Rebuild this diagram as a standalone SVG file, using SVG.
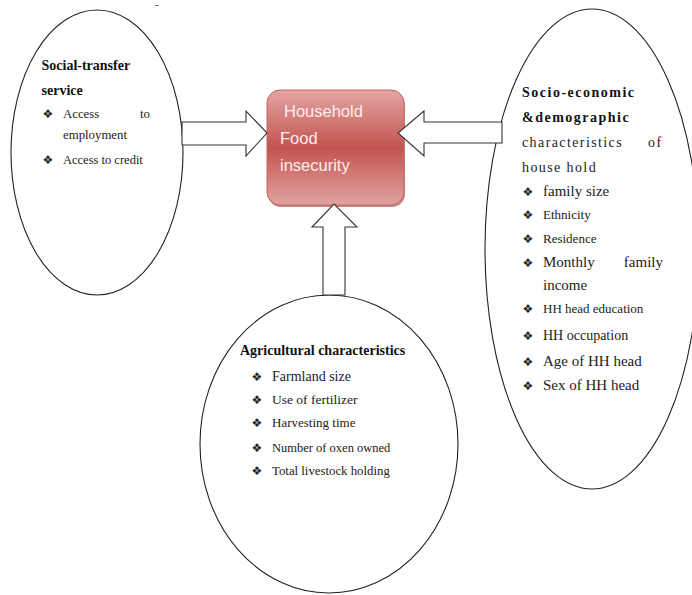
<svg xmlns="http://www.w3.org/2000/svg" width="692" height="595" viewBox="0 0 692 595">
<style>
.oval{fill:#fff;stroke:#222;stroke-width:1.1}
.arr{fill:#fff;stroke:#333;stroke-width:1.1;stroke-linejoin:miter}
.t{font-family:"Liberation Serif","Times New Roman",serif;fill:#222}
.b{font-weight:bold;fill:#111}
.bul{font-family:"DejaVu Sans",sans-serif;font-size:12px;fill:#222;text-anchor:middle}
.bx{font-family:"Liberation Sans",Arial,sans-serif;font-size:16.5px;fill:#fdeeee}
</style>
<defs>
<linearGradient id="g" x1="0" y1="0" x2="0" y2="1">
<stop offset="0" stop-color="#e3a6a4"/>
<stop offset="0.5" stop-color="#c4544f"/>
<stop offset="1" stop-color="#e0a3a1"/>
</linearGradient>
</defs>
<rect width="692" height="595" fill="#fff"/>
<text class="t" x="155" y="8" font-size="10">-</text>

<g id="social">
<ellipse class="oval" cx="97" cy="152.5" rx="86" ry="142.5"/>
<text class="t b" x="41.5" y="70" font-size="14">Social-transfer</text>
<text class="t b" x="41.5" y="95" font-size="14">service</text>
<text class="bul" x="48" y="118">❖</text>
<text class="t" x="63" y="118" font-size="12.8">Access</text>
<text class="t" x="150" y="118" font-size="12.8" text-anchor="end">to</text>
<text class="t" x="63" y="139" font-size="12.8">employment</text>
<text class="bul" x="48" y="164">❖</text>
<text class="t" x="63" y="164" font-size="12.5">Access to credit</text>
</g>

<g id="socio">
<ellipse class="oval" cx="592" cy="249" rx="107" ry="240"/>
<text class="t b" x="522" y="97" font-size="14" letter-spacing="1.5">Socio-economic</text>
<text class="t b" x="522" y="122" font-size="14" letter-spacing="1.5">&amp;demographic</text>
<text class="t" x="522" y="147" font-size="14" letter-spacing="1.4">characteristics</text>
<text class="t" x="648" y="147" font-size="14" letter-spacing="1.4">of</text>
<text class="t" x="522" y="172" font-size="14" letter-spacing="1.4">house hold</text>
<text class="bul" x="528" y="196">❖</text>
<text class="t" x="543" y="196" font-size="15">family size</text>
<text class="bul" x="528" y="219">❖</text>
<text class="t" x="543" y="219" font-size="13">Ethnicity</text>
<text class="bul" x="528" y="243">❖</text>
<text class="t" x="543" y="243" font-size="13">Residence</text>
<text class="bul" x="528" y="267">❖</text>
<text class="t" x="543" y="267" font-size="15">Monthly</text>
<text class="t" x="663" y="267" font-size="15" text-anchor="end">family</text>
<text class="t" x="543" y="290" font-size="15">income</text>
<text class="bul" x="528" y="313">❖</text>
<text class="t" x="543" y="313" font-size="13">HH head education</text>
<text class="bul" x="528" y="340">❖</text>
<text class="t" x="543" y="340" font-size="14">HH occupation</text>
<text class="bul" x="528" y="366">❖</text>
<text class="t" x="543" y="366" font-size="15">Age of HH head</text>
<text class="bul" x="528" y="390">❖</text>
<text class="t" x="543" y="390" font-size="15">Sex of HH head</text>
</g>

<g id="agri">
<ellipse class="oval" cx="329" cy="444" rx="129" ry="149"/>
<text class="t b" x="240" y="355" font-size="14">Agricultural characteristics</text>
<text class="bul" x="257" y="381">❖</text>
<text class="t" x="272" y="381" font-size="14">Farmland size</text>
<text class="bul" x="257" y="404">❖</text>
<text class="t" x="272" y="404" font-size="13.5">Use of fertilizer</text>
<text class="bul" x="257" y="427">❖</text>
<text class="t" x="272" y="427" font-size="13">Harvesting time</text>
<text class="bul" x="257" y="452">❖</text>
<text class="t" x="272" y="452" font-size="12.5">Number of oxen owned</text>
<text class="bul" x="257" y="475">❖</text>
<text class="t" x="272" y="475" font-size="12.8">Total livestock holding</text>
</g>

<g id="household">
<rect x="268" y="92" width="137" height="115" rx="13" fill="#9c3c39" opacity="0.6"/>
<rect x="267" y="90" width="137" height="115" rx="13" fill="url(#g)" stroke="#c7625f" stroke-width="1"/>
<text class="bx" x="284" y="117">Household</text>
<text class="bx" x="280" y="144">Food</text>
<text class="bx" x="280" y="171">insecurity</text>
</g>

<g id="connectors">
<path class="arr" d="M182,122 H246 V111 L267,133 L246,156 V145 H182 Z"/>
<path class="arr" d="M502,122 H424 V111 L398,133 L424,156 V143 H502 Z"/>
<path class="arr" d="M323,295 V227 H312 L334,204 L357,227 H345 V295 Z"/>
</g>
</svg>
